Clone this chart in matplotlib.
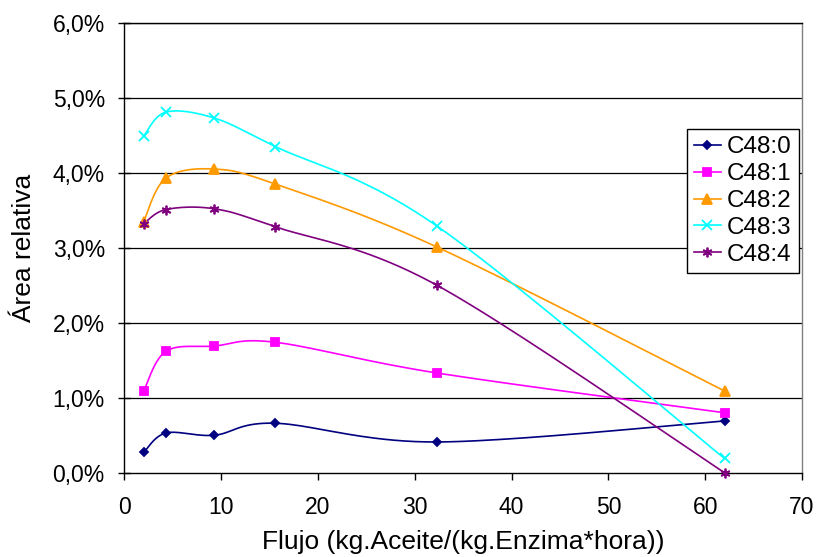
import numpy as np
import matplotlib
matplotlib.use("Agg")
import matplotlib.pyplot as plt
from matplotlib.ticker import FuncFormatter

plt.rcParams['font.family'] = ['Liberation Sans', 'DejaVu Sans']

# Data
flujo = [2.0, 4.3, 9.3, 15.6, 32.3, 62.0]
series_names = ["C48:0", "C48:1", "C48:2", "C48:3", "C48:4"]
c48_0 = [0.27, 0.53, 0.50, 0.66, 0.41, 0.69]
c48_1 = [1.09, 1.62, 1.69, 1.74, 1.33, 0.80]
c48_2 = [3.35, 3.93, 4.05, 3.85, 3.01, 1.09]
c48_3 = [4.49, 4.81, 4.73, 4.35, 3.29, 0.19]
c48_4 = [3.32, 3.51, 3.52, 3.28, 2.50, 0.00]
x_ticks = [0, 10, 20, 30, 40, 50, 60, 70]
y_ticks = [0, 1, 2, 3, 4, 5, 6]

series = [c48_0, c48_1, c48_2, c48_3, c48_4]
colors = ["#000080", "#FF00FF", "#FF9900", "#00FFFF", "#800080"]
markers = ["D", "s", "^", "x", (6, 2, 0)]
msizes = [4, 6, 7, 7, 7]

fig = plt.figure(figsize=(8.2, 5.57), dpi=100)
ax = fig.add_axes([0.1516, 0.1513, 0.978 - 0.1516, 0.959 - 0.1513])
ax.set_xlim(0, 70)
ax.set_ylim(0, 6)

# pixel scale for smoothing (Excel-like smoothing in screen space)
sx = (0.978 - 0.1516) * 820 / 70.0
sy = (0.959 - 0.1513) * 557 / 6.0


def smooth(xs, ys, n=40):
    P = np.column_stack([np.array(xs) * sx, np.array(ys) * sy])
    out = []
    m = len(P)
    for i in range(m - 1):
        p0 = P[i - 1] if i > 0 else P[i]
        p1 = P[i]
        p2 = P[i + 1]
        p3 = P[i + 2] if i + 2 < m else P[i + 1]
        c1 = p1 + (p2 - p0) / 6.0
        c2 = p2 - (p3 - p1) / 6.0
        t = np.linspace(0, 1, n)[:, None]
        seg = ((1 - t) ** 3) * p1 + 3 * ((1 - t) ** 2) * t * c1 + 3 * (1 - t) * t ** 2 * c2 + t ** 3 * p2
        out.append(seg if i == 0 else seg[1:])
    out = np.vstack(out)
    return out[:, 0] / sx, out[:, 1] / sy


for g in y_ticks[1:]:
    ax.axhline(g, color="black", lw=0.9, zorder=1)

for name, ys, c, mk, ms in zip(series_names, series, colors, markers, msizes):
    xs_s, ys_s = smooth(flujo, ys)
    ax.plot(xs_s, ys_s, color=c, lw=1.2, zorder=3)
    ax.plot(flujo, ys, linestyle="none", marker=mk, color=c, markersize=ms,
            markeredgewidth=1.3, zorder=4, clip_on=False)
    ax.plot([], [], color=c, marker=mk, markersize=ms, markeredgewidth=1.3, lw=1.2, label=name)

ax.set_xticks(x_ticks)
ax.set_yticks(y_ticks)
ax.yaxis.set_major_formatter(FuncFormatter(lambda v, p: ("%.1f%%" % v).replace(".", ",")))
ax.tick_params(axis="x", direction="out", length=5, width=1, labelsize=16.5, pad=12)
ax.tick_params(axis="y", direction="inout", length=8, width=1, labelsize=16.5, pad=10)

for s in ["left", "bottom", "top"]:
    ax.spines[s].set_color("black")
    ax.spines[s].set_linewidth(1.0)
ax.spines["right"].set_color("#808080")
ax.spines["right"].set_linewidth(1.0)

ax.set_xlabel("Flujo (kg.Aceite/(kg.Enzima*hora))", fontsize=19, labelpad=8)
ax.set_ylabel("Área relativa", fontsize=19, labelpad=12)

leg = ax.legend(loc="upper right", bbox_to_anchor=(0.9956, 0.764), fontsize=17.5,
                frameon=True, fancybox=False, edgecolor="black", framealpha=1,
                handlelength=1.1, handletextpad=0.25, borderpad=0.3, labelspacing=0.2,
                borderaxespad=0)
leg.get_frame().set_linewidth(1.0)

fig.savefig("out.png", dpi=100)
